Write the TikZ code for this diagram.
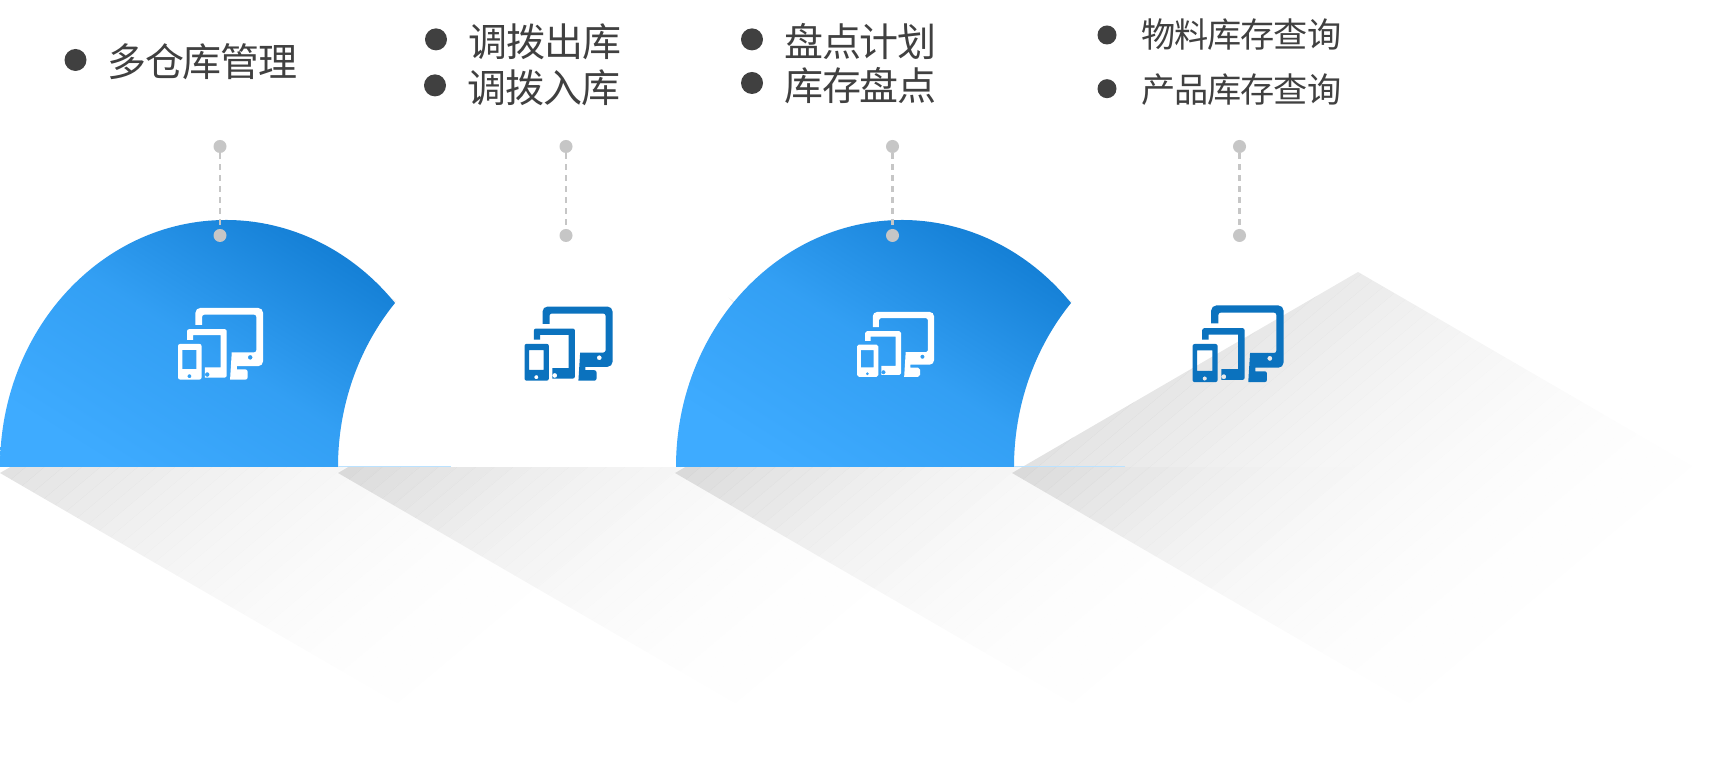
\documentclass[tikz,border=0pt]{standalone}
\usepackage{fontspec}
\newfontfamily\cjk[LetterSpace=-3]{Noto Sans CJK SC}
\definecolor{txt}{HTML}{404040}
\definecolor{dotc}{HTML}{C6C6C6}
\definecolor{blueL}{HTML}{3EABFF}
\definecolor{blueH}{HTML}{1580D6}
\definecolor{iconblue}{HTML}{0B72BE}
\tikzset{
  blueshape/.style={draw=none,top color=blueH,bottom color=blueL,middle color=blueL!72!blueH,shading angle=-32},
  whiteshape/.style={fill=white,draw=none},
  leader/.style={draw=dotc,line width=2.6pt,dash pattern=on 6pt off 5pt},
  enddot/.style={circle,fill=dotc,draw=none,minimum size=13pt,inner sep=0pt},
  bullet/.style={circle,fill=txt,draw=none,inner sep=0pt},
  bigtext/.style={anchor=west,inner sep=0pt,text=txt,font=\cjk\fontsize{39}{42}\selectfont},
  smalltext/.style={anchor=west,inner sep=0pt,text=txt,font=\cjk\fontsize{34.2}{37}\selectfont}
}
\newcommand{\archshape}[2]{\path[#2] (#1,316) arc[start angle=180,end angle=41.6,x radius=226pt,y radius=247pt]
   arc[start angle=138.4,end angle=180,x radius=226pt,y radius=247pt] -- cycle;}
% tilted rectangle fading towards the lower right, in narrow strips
\newcommand{\diamondshadow}[1]{%
 \begin{scope}
  \clip (#1,310) -- ++(346,201) -- ++(700,-406) -- ++(-346,-201) -- cycle;
  \begin{scope}[shift={(#1,310)},rotate=-50]
   \foreach \d in {0,12,...,516}{
     \pgfmathsetmacro{\al}{0.115*(1-(\d+6)/528)^2.4}
     \fill[black,fill opacity=\al] (\d,-1500) rectangle (\d+12,1500);
   }
  \end{scope}
 \end{scope}}
% #1 x left, #2 y top (image px), #3 width, #4 colour
\newcommand{\deviceicon}[4]{%
 \pgfmathsetmacro{\ks}{#3/253}
 \pgfmathsetmacro{\rA}{14*\ks}\pgfmathsetmacro{\rB}{6*\ks}
 \pgfmathsetmacro{\ox}{#1-85*\ks}\pgfmathsetmacro{\oy}{783-#2+85*\ks}
 \begin{scope}[shift={(\ox,\oy)},x=\ks pt,y=-\ks pt,fill=#4,even odd rule]
  \fill (137,135) [rounded corners=\rA pt] -- (137,85) -- (338,85) -- (338,258) [sharp corners] -- (260,258) -- (260,268)
     [rounded corners=\rB pt] -- (292,268) -- (292,298) [sharp corners] -- (240,298) -- (245,217)
     [rounded corners=\rB pt] -- (318,217) -- (318,105) -- (157,105) [sharp corners] -- (157,135) -- cycle
     (300,232) circle[radius=7];
  \fill (112,180) [rounded corners=\rB pt] -- (112,148) -- (230,148) -- (230,292) [sharp corners] -- (165,292) -- (165,262)
     -- (212,262) -- (212,166) -- (130,166) -- (130,180) -- cycle
     (172,283) circle[radius=7];
  \fill[rounded corners=\rB pt] (85,192) rectangle (155,298)
     [sharp corners] (98,210) rectangle (140,267) (119,288) circle[radius=6];
 \end{scope}
}
\begin{document}
\begin{tikzpicture}[x=1pt,y=1pt]
\useasboundingbox (0,0) rectangle (1717,783);
\fill[white] (0,0) rectangle (1717,783);
% shadows under the arches
\diamondshadow{0}
\diamondshadow{338}
\diamondshadow{675}
% arches
\archshape{338}{whiteshape}
\archshape{0}{blueshape}
\archshape{1014}{whiteshape}
\archshape{676}{blueshape}
\diamondshadow{1012}
% thin base lines
\draw[line width=1pt,draw=blueL!35!white] (338,316) -- (451,316);
\draw[line width=1pt,draw=blueL!35!white] (1014,316) -- (1125,316);
% icons
\deviceicon{178}{308}{85}{white}
\deviceicon{524.5}{306.6}{88}{iconblue}
\deviceicon{857}{312}{77}{white}
\deviceicon{1192.5}{305.5}{91}{iconblue}
% leaders
\foreach \n/\x in {1/220,2/566,3/892.5,4/1239.5}{
  \node[enddot] (top\n) at (\x,636.5) {};
  \node[enddot] (bot\n) at (\x,547.5) {};
  \draw[leader] (top\n) -- (bot\n);
}
% labels
\node[bullet,minimum size=22pt] (b1) at (75.5,723) {};
\node[bigtext] (t1) at (107,721) {多仓库管理};
\node[bullet,minimum size=22pt] (b2) at (436,743.6) {};
\node[bigtext] (t2) at (468.6,741.4) {调拨出库};
\node[bullet,minimum size=22pt] (b3) at (435,697.6) {};
\node[bigtext] (t3) at (467.5,695.4) {调拨入库};
\node[bullet,minimum size=22pt] (b4) at (752,743.6) {};
\node[bigtext] (t4) at (784,741.4) {盘点计划};
\node[bullet,minimum size=22pt] (b5) at (752,700) {};
\node[bigtext] (t5) at (784,697.7) {库存盘点};
\node[bullet,minimum size=19pt] (b6) at (1107,748) {};
\node[smalltext] (t6) at (1141,748) {物料库存查询};
\node[bullet,minimum size=19pt] (b7) at (1107,694.3) {};
\node[smalltext] (t7) at (1141,693.2) {产品库存查询};
\end{tikzpicture}
\end{document}
